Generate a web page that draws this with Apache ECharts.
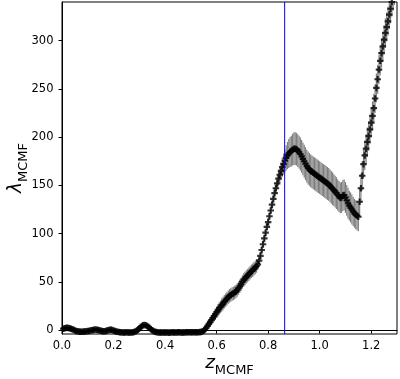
<!DOCTYPE html>
<html>
<head>
<meta charset="utf-8">
<script src="https://cdn.jsdelivr.net/npm/echarts@6.0.0/dist/echarts.min.js"></script>
<style>
  html, body { margin: 0; padding: 0; background: #fff; }
  #chart { width: 400px; height: 379px; }
</style>
</head>
<body>
<div id="chart"></div>
<script>
// redshift grid of the scan
var zVals = [
  0.005, 0.010, 0.015, 0.020, 0.025, 0.030, 0.035, 0.040, 0.045, 0.050,
  0.055, 0.060, 0.065, 0.070, 0.075, 0.080, 0.085, 0.090, 0.095, 0.100,
  0.105, 0.110, 0.115, 0.120, 0.125, 0.130, 0.135, 0.140, 0.145, 0.150,
  0.155, 0.160, 0.165, 0.170, 0.175, 0.180, 0.185, 0.190, 0.195, 0.200,
  0.205, 0.210, 0.215, 0.220, 0.225, 0.230, 0.235, 0.240, 0.245, 0.250,
  0.255, 0.260, 0.265, 0.270, 0.275, 0.280, 0.285, 0.290, 0.295, 0.300,
  0.305, 0.310, 0.315, 0.320, 0.325, 0.330, 0.335, 0.340, 0.345, 0.350,
  0.355, 0.360, 0.365, 0.370, 0.375, 0.380, 0.385, 0.390, 0.395, 0.400,
  0.405, 0.410, 0.415, 0.420, 0.425, 0.430, 0.435, 0.440, 0.445, 0.450,
  0.455, 0.460, 0.465, 0.470, 0.475, 0.480, 0.485, 0.490, 0.495, 0.500,
  0.505, 0.510, 0.515, 0.520, 0.525, 0.530, 0.535, 0.540, 0.545, 0.550,
  0.555, 0.560, 0.565, 0.570, 0.575, 0.580, 0.585, 0.590, 0.595, 0.600,
  0.605, 0.610, 0.615, 0.620, 0.625, 0.630, 0.635, 0.640, 0.645, 0.650,
  0.655, 0.660, 0.665, 0.670, 0.675, 0.680, 0.685, 0.690, 0.695, 0.700,
  0.705, 0.710, 0.715, 0.720, 0.725, 0.730, 0.735, 0.740, 0.745, 0.750,
  0.755, 0.760, 0.765, 0.770, 0.775, 0.780, 0.785, 0.790, 0.795, 0.800,
  0.805, 0.810, 0.815, 0.820, 0.825, 0.830, 0.835, 0.840, 0.845, 0.850,
  0.855, 0.860, 0.865, 0.870, 0.875, 0.880, 0.885, 0.890, 0.895, 0.900,
  0.905, 0.910, 0.915, 0.920, 0.925, 0.930, 0.935, 0.940, 0.945, 0.950,
  0.955, 0.960, 0.965, 0.970, 0.975, 0.980, 0.985, 0.990, 0.995, 1.000,
  1.005, 1.010, 1.015, 1.020, 1.025, 1.030, 1.035, 1.040, 1.045, 1.050,
  1.055, 1.060, 1.065, 1.070, 1.075, 1.080, 1.085, 1.090, 1.095, 1.100,
  1.105, 1.110, 1.115, 1.120, 1.125, 1.130, 1.135, 1.140, 1.145, 1.150,
  1.155, 1.160, 1.165, 1.170, 1.175, 1.180, 1.185, 1.190, 1.195, 1.200,
  1.205, 1.210, 1.215, 1.220, 1.225, 1.230, 1.235, 1.240, 1.245, 1.250,
  1.255, 1.260, 1.265, 1.270, 1.275, 1.280, 1.285, 1.290
];

// richness lambda at each z
var lambdaVals = [
  1.5, 2, 2.3, 2.5, 2.3, 2, 1.5, 1, 0.3, -0.3,
  -0.8, -1.2, -1.5, -1.7, -1.7, -1.6, -1.5, -1.3, -1.2, -1,
  -0.8, -0.5, -0.2, 0.2, 0.5, 0.6, 0.5, 0.2, -0.2, -0.6,
  -1, -1.2, -1.1, -0.8, -0.4, 0, 0.3, 0.4, 0.2, -0.3,
  -0.8, -1.3, -1.7, -2, -2.2, -2.3, -2.4, -2.4, -2.4, -2.3,
  -2.4, -2.5, -2.5, -2.4, -2.3, -2, -1.5, -0.6, 0.5, 1.8,
  3.2, 4.3, 5, 5.2, 5, 4.4, 3.4, 2.2, 1, -0.1,
  -1, -1.6, -2, -2.3, -2.4, -2.5, -2.5, -2.5, -2.4, -2.4,
  -2.5, -2.5, -2.6, -2.5, -2.4, -2.3, -2.4, -2.5, -2.4, -2.3,
  -2.3, -2.4, -2.5, -2.5, -2.4, -2.2, -2.1, -2.2, -2.3, -2.2,
  -2.1, -2.2, -2.3, -2.2, -2.2, -2.1, -2.0, -1.8, -1.4, -0.6,
  0.8, 2.5, 4.5, 6.5, 8.5, 10.5, 12.5, 14.5, 16.5, 18.5,
  20.5, 22.5, 24, 26, 27.5, 29.5, 31, 32.5, 34, 35.5,
  36.5, 37.5, 38, 39, 40, 41.5, 43.5, 45.5, 47.5, 50,
  52, 53.5, 55, 56.5, 58, 59.5, 61, 62, 63.5, 65,
  66.5, 68, 72, 77, 83, 89, 95, 101, 107, 112,
  118, 124, 130, 136, 142, 147, 152, 157, 161, 165,
  169, 172, 175.5, 178.5, 181, 183, 184.5, 185.5, 187, 188,
  188, 187.5, 186, 184.5, 182.5, 180, 177.5, 175, 172.5, 170,
  168, 166.5, 165, 164, 163, 162, 161, 160, 159, 158,
  157, 156, 155, 154, 153, 152, 151, 149.5, 148, 146.5,
  145, 143.5, 142, 140, 138.5, 137, 137.5, 139.5, 140, 137.5,
  134.5, 131.5, 129, 127, 125, 123, 121, 119.5, 118.5, 117.5,
  133, 147, 160, 172, 181, 188, 195, 201, 208, 215,
  222, 230, 240, 251, 260, 270, 279, 287, 294, 301,
  308, 314, 320, 327, 333, 340, 346, 352
];

// 1-sigma error on lambda
var lambdaErr = [
  1.5, 1.5, 1.5, 1.5, 1.5, 1.5, 1.5, 1.5, 1.5, 1.5,
  1.5, 1.5, 1.5, 1.5, 1.5, 1.5, 1.5, 1.5, 1.5, 1.5,
  1.5, 1.5, 1.5, 1.5, 1.5, 1.5, 1.5, 1.5, 1.5, 1.5,
  1.5, 1.5, 1.5, 1.5, 1.5, 1.5, 1.5, 1.5, 1.5, 1.5,
  1.5, 1.5, 1.5, 1.5, 1.5, 1.5, 1.5, 1.5, 1.5, 1.5,
  1.5, 1.5, 1.5, 1.5, 1.5, 1.5, 1.5, 1.5, 1.5, 1.5,
  1.5, 1.5, 1.5, 1.5, 1.5, 1.5, 1.5, 1.5, 1.5, 1.5,
  1.5, 1.5, 1.5, 1.5, 1.5, 1.5, 1.5, 1.5, 1.5, 1.5,
  1.5, 1.5, 1.5, 1.5, 1.5, 1.5, 1.5, 1.5, 1.5, 1.5,
  1.5, 1.5, 1.5, 1.5, 1.5, 1.5, 1.5, 1.5, 1.5, 1.5,
  1.5, 1.5, 1.5, 1.5, 1.5, 1.5, 1.5, 1.5, 2, 2.5,
  3, 3.5, 4, 4.5, 5, 5, 5.5, 5.5, 6, 6,
  6.5, 6.5, 6.5, 7, 7, 7, 7, 7, 7, 7,
  7, 7, 7, 7, 7, 7, 7, 7, 7, 7,
  7, 7, 7, 7, 7, 7, 7, 7, 7, 7,
  7, 5.5, 4.5, 4, 4, 4, 4, 4, 4, 4,
  4, 4, 4.5, 4.5, 5, 5.5, 6, 7, 8, 9,
  10, 11, 12, 13, 14, 15, 15.5, 16, 16.5, 17,
  17, 17, 17, 17, 17, 17, 17, 17, 17, 17,
  17, 17, 17, 17, 17, 17, 17, 17, 17, 17,
  17, 17, 17, 17, 17, 17, 17, 17, 17, 17,
  16.5, 16.5, 16.5, 16, 16, 16, 16, 16, 16, 16,
  16, 16, 15.5, 15.5, 15.5, 15, 15, 15, 15, 15,
  15, 15, 15, 15, 15, 15, 15, 15, 15, 15,
  15, 15, 15, 15, 15, 15, 15, 15, 15, 15,
  15, 15, 15, 15, 15, 15, 15, 15
];

var xTicks = [0, 0.2, 0.4, 0.6, 0.8, 1.0, 1.2];
var yTicks = [0, 50, 100, 150, 200, 250, 300];
var zMarker = 0.864;
var yMin = -4, yMax = 340;

var pointData = zVals.map(function (z, i) { return [z, lambdaVals[i]]; });
var errData = zVals.map(function (z, i) {
    return [z, lambdaVals[i] - lambdaErr[i], lambdaVals[i] + lambdaErr[i]];
});

var font = 'DejaVu Sans';
var nameRich = {
    z: { fontFamily: font, fontStyle: 'italic', fontSize: 18.5, color: '#000', verticalAlign: 'bottom', lineHeight: 20, padding: [0, 0, 4, 0] },
    s: { fontFamily: font, fontSize: 13, color: '#000', verticalAlign: 'bottom', lineHeight: 13 }
};

var chart = echarts.init(document.getElementById('chart'), null, { renderer: 'canvas' });

var option = {
    animation: false,
    grid: {
        left: 62, right: 3, top: 2, bottom: 45,
        containLabel: false, outerBoundsMode: 'none',
        show: true, borderColor: '#000', borderWidth: 1, backgroundColor: 'transparent'
    },
    xAxis: {
        type: 'value', min: 0, max: 1.3,
        name: '{z|z}{s|MCMF}', nameLocation: 'middle', nameGap: 23, nameMoveOverlap: false,
        nameTextStyle: { rich: nameRich },
        axisLine: { show: true, lineStyle: { color: '#000', width: 1 } },
        axisTick: { show: true, length: 3.5, lineStyle: { color: '#000' }, customValues: xTicks },
        axisLabel: {
            customValues: xTicks, margin: 6, color: '#000', fontFamily: font, fontSize: 11.5,
            formatter: function (v) { return v.toFixed(1); }
        },
        splitLine: { show: false }
    },
    yAxis: {
        type: 'value', min: yMin, max: yMax,
        name: '{z|λ}{s|MCMF}', nameLocation: 'middle', nameGap: 32, nameMoveOverlap: false,
        nameTextStyle: { rich: nameRich },
        axisLine: { show: true, lineStyle: { color: '#000', width: 1 } },
        axisTick: { show: true, length: 3.5, lineStyle: { color: '#000' }, customValues: yTicks },
        axisLabel: { customValues: yTicks, margin: 8.5, color: '#000', fontFamily: font, fontSize: 11.5 },
        splitLine: { show: false }
    },
    series: [
        {
            type: 'custom',
            clip: true,
            z: 1,
            data: errData,
            encode: { x: 0, y: [1, 2] },
            renderItem: function (params, api) {
                var lo = api.coord([api.value(0), api.value(1)]);
                var hi = api.coord([api.value(0), api.value(2)]);
                return {
                    type: 'line',
                    shape: { x1: lo[0], y1: lo[1], x2: hi[0], y2: hi[1] },
                    style: { stroke: '#808080', lineWidth: 1.2 }
                };
            }
        },
        {
            type: 'scatter',
            z: 2,
            clip: true,
            data: pointData,
            symbol: 'path://M1,0H2V1H3V2H2V3H1V2H0V1H1Z',
            symbolSize: 6.5,
            itemStyle: { color: '#000' }
        },
        {
            // best redshift marker
            type: 'line',
            z: 3,
            data: [[zMarker, yMin], [zMarker, yMax]],
            symbol: 'none',
            lineStyle: { color: '#0000ff', width: 1 },
            silent: true
        }
    ]
};

chart.setOption(option);
</script>
</body>
</html>
